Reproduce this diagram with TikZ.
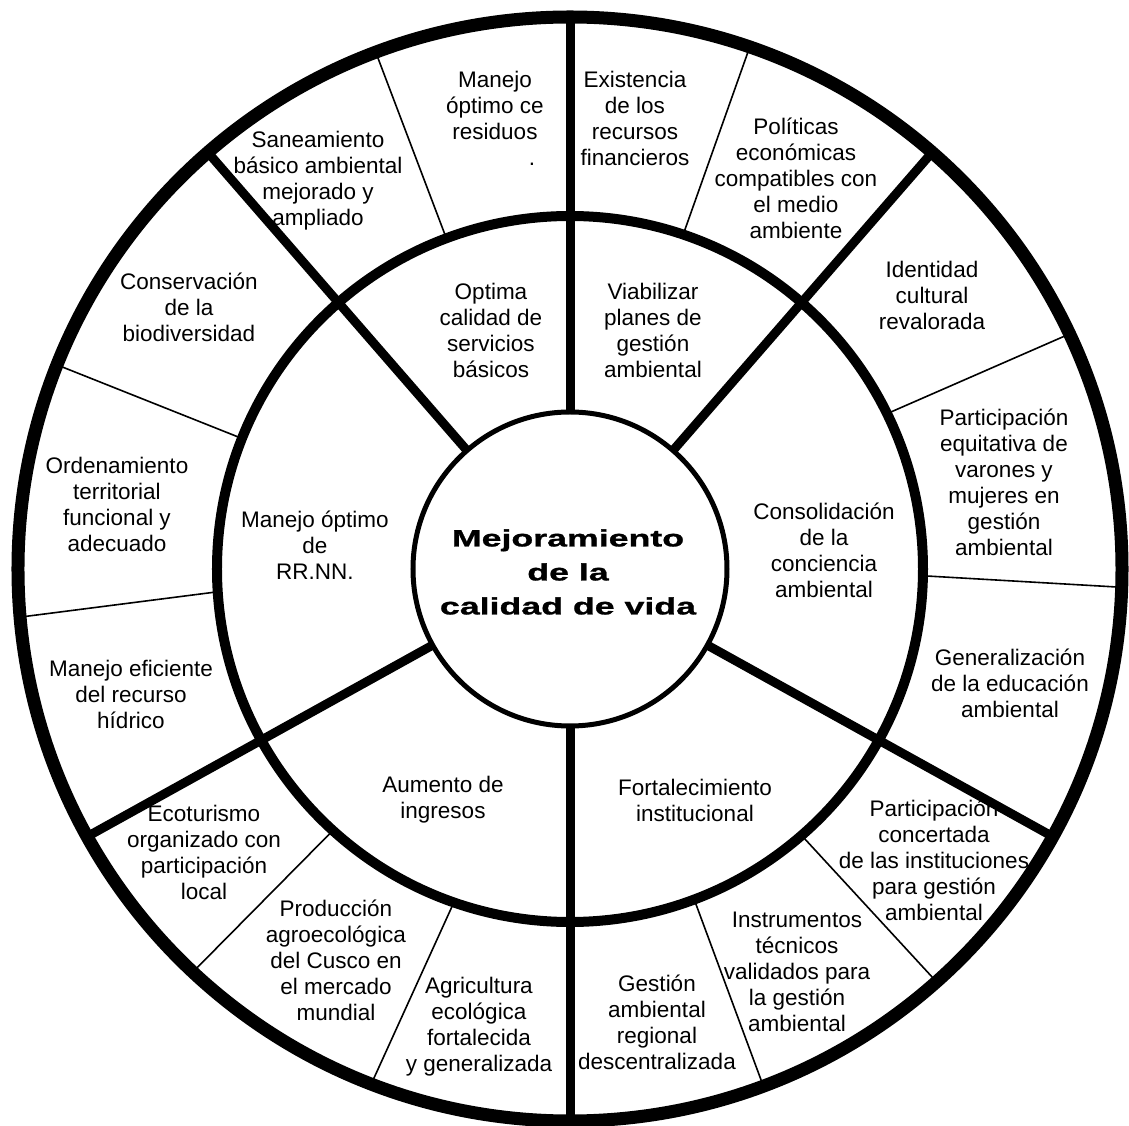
\documentclass[tikz,border=0pt]{standalone}
\usepackage{fontspec}
\setmainfont{Liberation Sans}
\newfontfamily\titlefont[FakeStretch=1.52,FakeBold=1.2]{Liberation Sans Bold}
\begin{document}
\begin{tikzpicture}[x=1pt,y=1pt,
  lbl/.style={align=center, font=\fontsize{22.5}{26}\selectfont, inner sep=0pt},
  title/.style={align=center, font=\titlefont\fontsize{23.5}{34}\selectfont, inner sep=0pt},
  spoke/.style={line width=9pt},
  divider/.style={line width=1.6pt},
  outerring/.style={line width=13pt},
  midring/.style={line width=10pt},
  innerring/.style={line width=5pt}]
\useasboundingbox (-570,-557) rectangle (559,569);
\fill[white] (-570,-557) rectangle (559,569);
\coordinate (C) at (0,0);
\def\Ro{552}\def\Rm{353}\def\Ri{157}
% thick spokes
\foreach \a in {49,90,131,209,270,331}
  \draw[spoke] (\a:\Ri) -- (\a:\Ro);
% thin dividers of the outer ring
\foreach \a/\b in {110.5/110.6, 158.3/158.3, 183.7/185, 227.8/226.9, 250.8/248.9,
                   290.6/290.5, 311/311.6, 358.9/358.1, 26.1/25.2, 71.3/71.0}
  \draw[divider] (\a:\Rm) -- (\b:\Ro);
% rings
\draw[outerring] (C) circle (\Ro);
\draw[midring] (C) circle (\Rm);
\draw[innerring] (C) circle (\Ri);
% centre
\node[title] (centre) at (-2,-3) {Mejoramiento\\de la\\calidad de vida};
% middle ring
\node[lbl] (m1) at (-79,239) {Optima\\calidad de\\servicios\\básicos};
\node[lbl] (m2) at (83,239) {Viabilizar\\planes de\\gestión\\ambiental};
\node[lbl] (m3) at (-255,24) {Manejo óptimo\\de\\RR.NN.};
\node[lbl] (m4) at (254,19) {Consolidación\\de la\\conciencia\\ambiental};
\node[lbl] (m5) at (-127,-231) {Aumento de\\ingresos};
\node[lbl] (m6) at (125,-231) {Fortalecimiento\\institucional};
% outer ring
\node[lbl] (o1) at (-75,464) {Manejo\\óptimo ce\\residuos};
\node[lbl] (o1dot) at (-38,405) {.};
\node[lbl] (o2) at (-252,388) {Saneamiento\\básico ambiental\\mejorado y\\ampliado};
\node[lbl] (o3) at (-381,262) {Conservación\\de la\\biodiversidad};
\node[lbl] (o4) at (-453,65) {Ordenamiento\\territorial\\funcional y\\adecuado};
\node[lbl] (o5) at (-439,-125) {Manejo eficiente\\del recurso\\hídrico};
\node[lbl] (o6) at (-366,-283) {Ecoturismo\\organizado con\\participación\\local};
\node[lbl] (o7) at (-234,-391) {Producción\\agroecológica\\del Cusco en\\el mercado\\mundial};
\node[lbl] (o8) at (-91,-458) {Agricultura\\ecológica\\fortalecida\\y generalizada};
\node[lbl] (o9) at (87,-453) {Gestión\\ambiental\\regional\\descentralizada};
\node[lbl] (o10) at (227,-403) {Instrumentos\\técnicos\\validados para\\la gestión\\ambiental};
\node[lbl] (o11) at (364,-291) {Participación\\concertada\\de las instituciones\\para gestión\\ambiental};
\node[lbl] (o12) at (440,-114) {Generalización\\de la educación\\ambiental};
\node[lbl] (o13) at (434,87) {Participación\\equitativa de\\varones y\\mujeres en\\gestión\\ambiental};
\node[lbl] (o14) at (362,274) {Identidad\\cultural\\revalorada};
\node[lbl] (o15) at (226,391) {Políticas\\económicas\\compatibles con\\el medio\\ambiente};
\node[lbl] (o16) at (65,451) {Existencia\\de los\\recursos\\financieros};
\end{tikzpicture}
\end{document}
